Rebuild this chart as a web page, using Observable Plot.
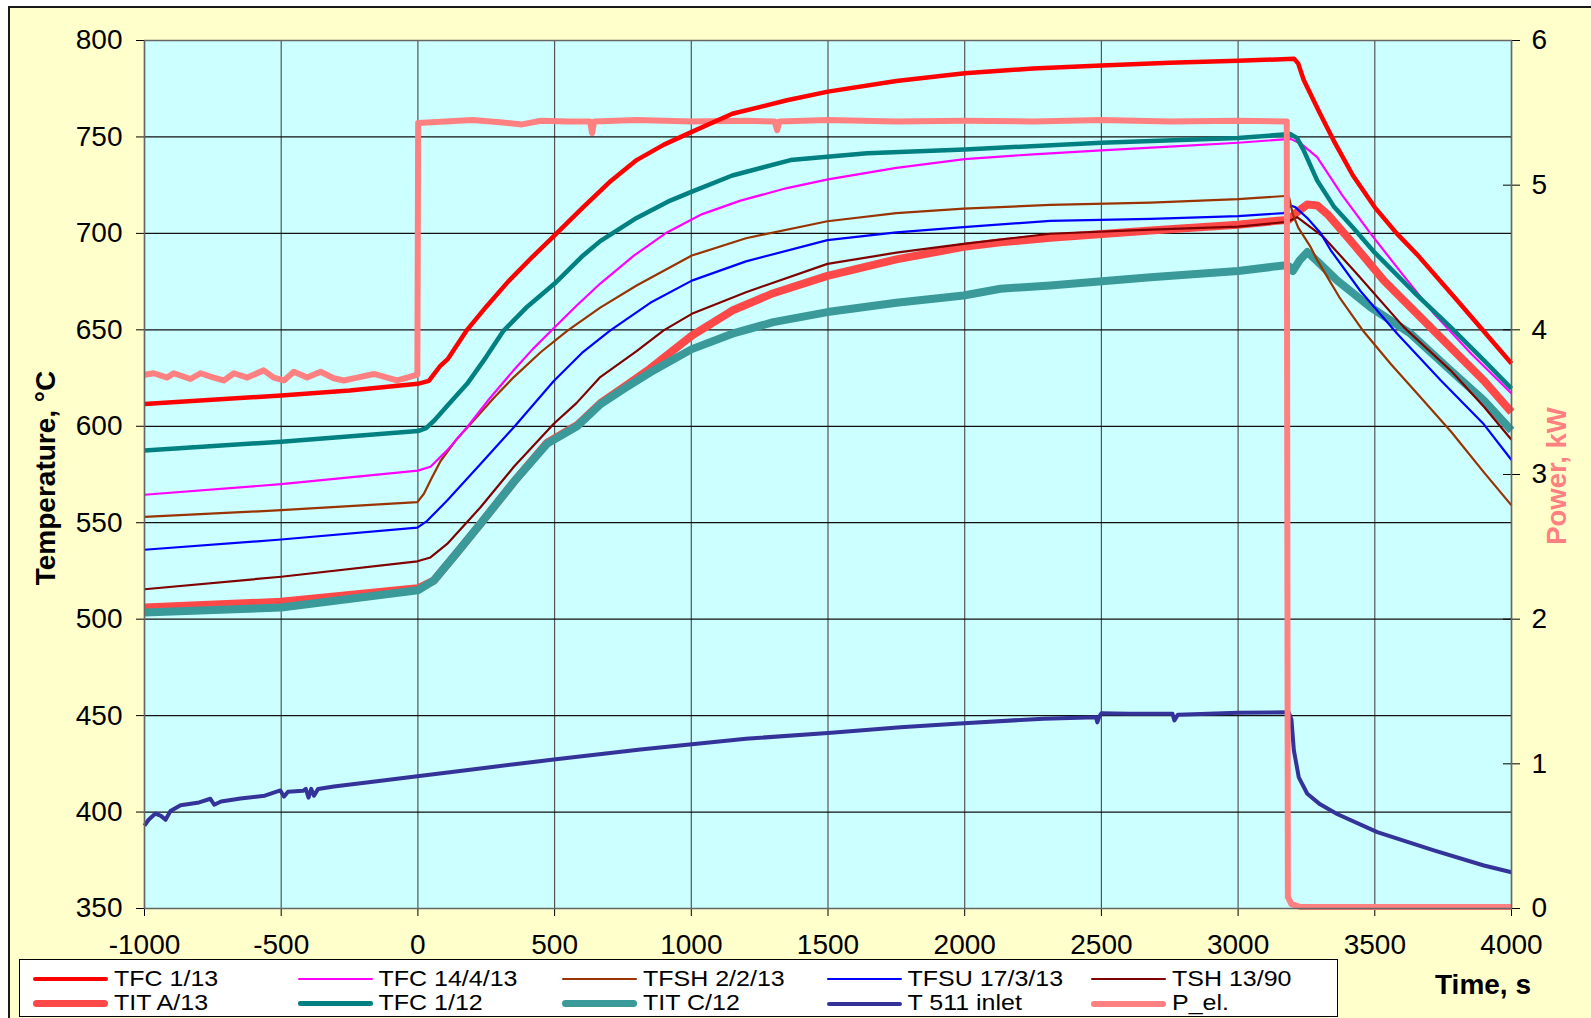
<!DOCTYPE html>
<html>
<head>
<meta charset="utf-8">
<script src="https://cdn.jsdelivr.net/npm/d3@7"></script>
<script src="https://cdn.jsdelivr.net/npm/@observablehq/plot@0.6"></script>
<style>
  body { margin: 0; background: #ffffff; }
  #wrap { position: relative; width: 1591px; height: 1018px; overflow: hidden;
          font-family: "Liberation Sans", Arial, sans-serif; }
  #bg { position: absolute; left: 8px; top: 6px; width: 1700px; height: 1100px;
        background: #FFFFCC; border: 2px solid #1a1a1a; box-sizing: border-box; }
  #chart { position: absolute; left: 0; top: 0; }
  .rot { position: absolute; transform: translate(-50%, -50%) rotate(-90deg);
         white-space: nowrap; font-weight: bold; font-size: 28px; line-height: 1; }
  #xlabel { position: absolute; left: 1435px; top: 971px; font-weight: bold;
            font-size: 28px; line-height: 28px; white-space: nowrap; }
  #legend { position: absolute; left: 19px; top: 959px; width: 1319px; height: 58px;
            background: #ffffff; border: 1px solid #000; box-sizing: border-box; }
  .entry { position: absolute; height: 24px; }
  .swatch { position: absolute; left: 0; width: 75px; }
  .ltext { position: absolute; left: 81px; top: 0; font-size: 25px; line-height: 24px; white-space: nowrap; color: #000;
           transform: scaleY(0.88); transform-origin: 0 20.5px; }
</style>
</head>
<body>
<div id="wrap">
  <div id="bg"></div>
  <div id="chart"></div>
  <div class="rot" style="left:46px;top:478px;color:#000;">Temperature, °C</div>
  <div class="rot" style="left:1557px;top:476px;color:#FF8080;font-size:27.5px;">Power, kW</div>
  <div id="xlabel">Time, s</div>
  <div id="legend"></div>
</div>
<script>
// ---------- data (time s, value) ----------
const xTicks = [-1000, -500, 0, 500, 1000, 1500, 2000, 2500, 3000, 3500, 4000];
const tempTicks = [350, 400, 450, 500, 550, 600, 650, 700, 750, 800];
const powerTicks = [0, 1, 2, 3, 4, 5, 6];

const tfc113 = [[-1000,611.5],[-500,616],[-250,618.5],[0,622],[40,623.5],[80,631],[110,635],[180,650],[250,662],[330,675],[420,688],[500,699],[600,713],[700,726.5],[800,738],[900,746],[1000,752.5],[1150,762],[1350,769],[1500,773.5],[1750,779],[2000,783],[2250,785.5],[2500,787],[2750,788.5],[3000,789.5],[3205,790.5],[3220,788],[3240,779.5],[3300,762],[3350,748],[3420,730],[3500,713.5],[3580,700],[3655,689],[3800,665.5],[3900,649],[4000,632.5]];

const tfc14413 = [[-1000,564.5],[-500,570],[0,577],[46,579],[107,587.5],[180,599.5],[260,614],[350,629],[420,640],[491,650],[580,662.5],[667,674],[790,688.5],[911,700.5],[1040,710],[1180,717],[1350,723.5],[1500,728],[1750,734],[2000,738.5],[2250,741],[2500,743],[2750,745],[3000,747],[3192,749],[3230,746.5],[3289,739.5],[3380,720],[3484,700],[3600,679],[3716,658.5],[3850,638],[4000,617]];

const tfsh2213 = [[-1000,553],[-500,556.5],[-2,560.7],[22,565],[50,573],[83,582],[140,593],[204,603],[280,615],[351,625.5],[450,638.5],[546,649.5],[667,661.5],[800,673],[1002,688.5],[1200,697.5],[1498,706.3],[1750,710.5],[1996,712.8],[2313,714.8],[2680,716],[3000,717.8],[3185,719.5],[3200,710],[3220,703],[3265,693],[3290,686],[3370,667],[3460,649],[3560,632],[3655,617],[3780,597],[3900,576],[4000,559]];

const tfsu17313 = [[-1000,536],[-500,541.3],[-2,547.5],[34,551],[107,561.5],[229,580.5],[351,599.5],[497,623.5],[600,638],[704,649.7],[850,664],[1002,675.5],[1200,685.5],[1498,696.5],[1750,700.5],[1996,703.2],[2313,706.5],[2680,707.5],[3000,709],[3167,710.5],[3192,714.5],[3210,713.5],[3253,708],[3300,700.5],[3340,691],[3448,670],[3582,648],[3740,624],[3899,601],[4000,582.5]];

const tsh1390 = [[-1000,515.5],[-500,522],[-2,530],[46,532],[107,539],[229,558],[351,579],[497,601.3],[580,612],[667,625.5],[800,639],[899,649.7],[1002,658.3],[1200,669.5],[1498,684.2],[1750,690],[1996,694.6],[2313,699.8],[2680,702],[3000,703.5],[3180,706],[3216,708.4],[3313,698],[3435,679],[3606,651.4],[3777,629],[3900,610],[4000,593]];

const titA13 = [[-1000,506],[-500,509],[0,516],[58,520],[140,534],[229,549.5],[350,571],[473,591.5],[582,600.5],[668,612],[760,621],[850,630],[1002,647],[1150,660],[1300,669],[1498,678],[1750,686.5],[1996,693],[2131,695.4],[2313,697.7],[2680,701.5],[3000,704.5],[3143,706.5],[3185,707],[3215,711],[3253,715],[3290,714.5],[3330,709.5],[3411,696.3],[3533,675.6],[3655,658.3],[3780,640.5],[3899,623.7],[4000,607.3]];

const tfc112 = [[-1000,587.5],[-500,592],[0,597.5],[30,599],[60,603],[110,611],[180,622],[250,636],[313,649.5],[400,662],[500,674],[600,688],[667,696],[800,708],[923,717],[1000,721.5],[1150,730],[1363,738],[1643,741.5],[2000,743.5],[2500,747],[3000,749.5],[3190,751.5],[3215,749.5],[3240,743],[3289,727.5],[3350,714],[3420,703],[3500,690],[3640,670],[3780,651],[3900,634],[4000,619.5]];

const titC12 = [[-1000,503.5],[-500,506],[0,515],[58,520],[140,534],[229,549.5],[350,571],[473,591],[582,600],[668,611.5],[760,620],[850,628],[1002,640],[1150,648],[1300,654],[1498,659.2],[1750,664],[1996,667.8],[2131,671.3],[2313,673],[2680,677.3],[3000,680.5],[3167,683.4],[3185,683],[3200,680.5],[3225,686],[3253,690.3],[3290,685.5],[3362,675.6],[3484,661.8],[3631,648],[3777,629],[3899,613.4],[4000,597.8]];

const t511 = [[-1000,393],[-985,396],[-960,399.2],[-940,398],[-923,396],[-905,400.5],[-868,403.5],[-800,405],[-759,406.9],[-745,403.8],[-720,405.5],[-649,407],[-560,408.5],[-503,411.2],[-490,408],[-475,410.5],[-420,411],[-410,412],[-400,407.5],[-390,412],[-380,408.5],[-365,412],[-307,413.3],[-150,416],[-2,418.6],[250,423],[497,427.2],[814,432.4],[1200,438],[1500,441],[1765,444],[1997,446.1],[2289,448.4],[2480,449.2],[2485,446.5],[2492,449.5],[2500,451.2],[2600,451],[2760,451],[2767,447.5],[2780,450.5],[3000,451.5],[3185,451.7],[3195,448],[3204,432],[3222,418],[3253,409.5],[3300,404],[3362,399],[3509,389.6],[3716,380.1],[3899,372.3],[4000,368.8]];

const pel = [[-1000,3.69],[-966,3.70],[-917,3.67],[-893,3.70],[-832,3.66],[-795,3.70],[-747,3.67],[-710,3.65],[-673,3.70],[-624,3.67],[-564,3.72],[-527,3.67],[-490,3.65],[-454,3.71],[-405,3.67],[-356,3.71],[-308,3.665],[-271,3.65],[-222,3.67],[-161,3.695],[-112,3.67],[-76,3.65],[-39,3.67],[-2,3.69],[1,5.43],[100,5.44],[200,5.45],[300,5.435],[381,5.42],[450,5.445],[550,5.44],[630,5.44],[637,5.36],[645,5.44],[800,5.45],[1000,5.44],[1200,5.445],[1305,5.44],[1314,5.38],[1322,5.44],[1500,5.45],[1750,5.44],[2000,5.445],[2250,5.44],[2500,5.45],[2750,5.44],[3000,5.445],[3178,5.44],[3182,0.08],[3195,0.03],[3230,0.01],[4000,0.01]];

// ---------- series styling ----------
const series = [
  {name: "TFC 1/13",     data: tfc113,    color: "#FF0000", width: 4.5, power: false},
  {name: "TFC 14/4/13",  data: tfc14413,  color: "#FF00FF", width: 2.2, power: false},
  {name: "TFSH 2/2/13",  data: tfsh2213,  color: "#993300", width: 2.2, power: false},
  {name: "TFSU 17/3/13", data: tfsu17313, color: "#0000FF", width: 2.2, power: false},
  {name: "TSH 13/90",    data: tsh1390,   color: "#800000", width: 2.2, power: false},
  {name: "TIT A/13",     data: titA13,    color: "#FF4848", width: 8,   power: false},
  {name: "TFC 1/12",     data: tfc112,    color: "#008080", width: 4.5, power: false},
  {name: "TIT C/12",     data: titC12,    color: "#3A9A9A", width: 8,   power: false},
  {name: "T 511 inlet",  data: t511,      color: "#333399", width: 4,   power: false},
  {name: "P_el.",        data: pel,       color: "#FF8080", width: 6,   power: true}
];
// drawing order (last on top)
const drawOrder = ["TIT A/13", "TIT C/12", "TSH 13/90", "TFSU 17/3/13", "TFSH 2/2/13", "TFC 14/4/13", "TFC 1/12", "T 511 inlet", "P_el.", "TFC 1/13"];

// power (kW) is drawn on the right axis: 0..6 kW spans 350..800 °C
const p2t = p => 350 + p * 75;

const lineMarks = drawOrder.map(n => {
  const s = series.find(d => d.name === n);
  return Plot.line(s.data, {
    x: d => d[0],
    y: d => s.power ? p2t(d[1]) : d[1],
    stroke: s.color, strokeWidth: s.width,
    strokeLinejoin: "round", strokeLinecap: "butt"
  });
});

const chart = Plot.plot({
  width: 1591, height: 1018,
  marginLeft: 144, marginRight: 80, marginTop: 40, marginBottom: 110,
  x: {domain: [-1000, 4000]},
  y: {domain: [350, 800]},
  style: {fontFamily: "'Liberation Sans', Arial, sans-serif", background: "transparent", overflow: "visible", color: "#000"},
  marks: [
    Plot.frame({fill: "#CCFFFF", stroke: null}),
    Plot.ruleX(xTicks, {stroke: "#555", strokeWidth: 1.2}),
    Plot.ruleY(tempTicks, {stroke: "#111", strokeWidth: 1.2}),
    Plot.axisY({anchor: "left", ticks: tempTicks, tickFormat: d => String(d), tickSize: 8, tickPadding: 14, fontSize: 28, label: null}),
    Plot.axisY({anchor: "right", ticks: powerTicks.map(p2t), tickFormat: d => String(Math.round((d - 350) / 75)), tickSize: 17, dx: -9, tickPadding: 12, fontSize: 28, label: null}),
    Plot.axisX({ticks: xTicks, tickFormat: d => String(d), tickSize: 8, tickPadding: 18, fontSize: 28, label: null}),
    ...lineMarks,
    Plot.frame({stroke: "#666", strokeWidth: 1.5})
  ]
});
document.getElementById("chart").appendChild(chart);

// ---------- legend ----------
const legend = document.getElementById("legend");
series.forEach((s, i) => {
  const col = i % 5, row = Math.floor(i / 5);
  const e = document.createElement("div");
  e.className = "entry";
  e.style.left = (13 + col * 264.5) + "px";
  e.style.top = (4.5 + row * 24.5) + "px";
  const sw = document.createElement("div");
  sw.className = "swatch";
  const w = Math.max(2, Math.min(s.width, 7));
  sw.style.height = w + "px";
  sw.style.top = (14.5 - w / 2) + "px";
  sw.style.background = s.color;
  sw.style.borderRadius = (w / 2) + "px";
  const t = document.createElement("div");
  t.className = "ltext";
  t.textContent = s.name;
  e.appendChild(sw); e.appendChild(t);
  legend.appendChild(e);
});
</script>
</body>
</html>
